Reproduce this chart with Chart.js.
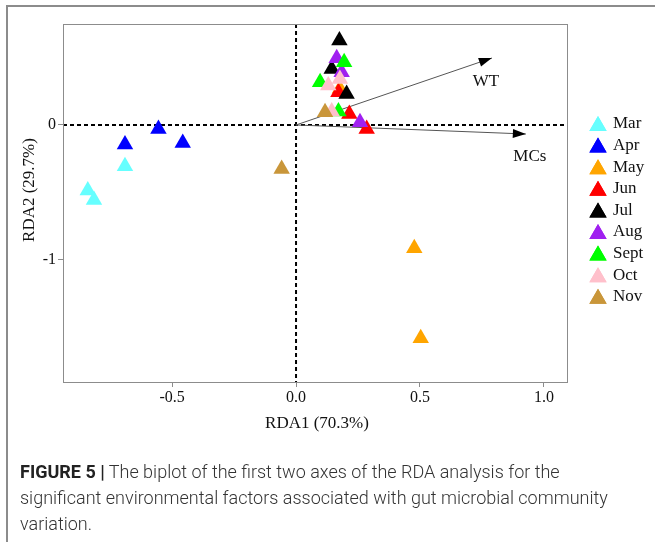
<!DOCTYPE html>
<html>
<head>
<meta charset="utf-8">
<script src="https://cdn.jsdelivr.net/npm/chart.js@4/dist/chart.umd.min.js"></script>
<style>
  html, body { margin: 0; padding: 0; background: #fff; }
  body { width: 655px; height: 542px; position: relative; overflow: hidden; }
  #frame { position: absolute; left: 6px; top: 5px; width: 660px; height: 545px;
    border-left: 2px solid #8c8c8c; border-top: 2px solid #8c8c8c; }
  #chart { position: absolute; left: 0; top: 0; }
  #caption { position: absolute; left: 20px; top: 459px; font-family: Roboto, "Noto Sans", sans-serif;
    font-weight: 300; font-size: 18px; line-height: 26px; color: #333; white-space: nowrap; }
  #caption b { font-weight: 700; color: #222; }
</style>
</head>
<body>
<div id="frame"></div>
<canvas id="chart" width="655" height="542"></canvas>
<div id="caption"><b>FIGURE 5 |</b> The biplot of the first two axes of the RDA analysis for the<br>significant environmental factors associated with gut microbial community<br>variation.</div>
<script>
// sample scores [RDA1, RDA2] per month
const mar = [[-0.69, -0.305], [-0.84, -0.485], [-0.815, -0.555]];
const apr = [[-0.555, -0.03], [-0.69, -0.145], [-0.457, -0.133]];
const may = [[0.477, -0.913], [0.503, -1.58], [0.177, 0.268]];
const jun = [[0.171, 0.242], [0.215, 0.082], [0.285, -0.03]];
const jul = [[0.175, 0.625], [0.144, 0.415], [0.204, 0.23]];
const aug = [[0.164, 0.494], [0.184, 0.39], [0.258, 0.02]];
const sept = [[0.194, 0.464], [0.097, 0.316], [0.171, 0.1]];
const oct = [[0.13, 0.292], [0.177, 0.341], [0.144, 0.1]];
const nov = [[0.117, 0.094], [-0.058, -0.326]];

const months = ['Mar', 'Apr', 'May', 'Jun', 'Jul', 'Aug', 'Sept', 'Oct', 'Nov'];
const monthData = [mar, apr, may, jun, jul, aug, sept, oct, nov];
const monthColors = ['#66FFFF', '#0000FF', '#FFA500', '#FF0000', '#000000', '#A020F0', '#00FF00', '#FFC0CB', '#C9963A'];

// environmental vectors
const envVars = ['WT', 'MCs'];
const envX = [0.79, 0.927];
const envY = [0.496, -0.067];

const xTicks = [-0.5, 0, 0.5, 1.0];
const yTicks = [0, -1];

const serif = '"Liberation Serif", "DejaVu Serif", serif';

const pointSets = monthData.map((pts, i) => ({
  type: 'scatter',
  label: months[i],
  data: pts.map(p => ({ x: p[0], y: p[1] })),
  pointStyle: 'triangle',
  pointRadius: 9.5,
  backgroundColor: monthColors[i],
  borderWidth: 0,
  order: months.length - i
}));

const arrowSets = envVars.map((name, i) => ({
  type: 'line',
  label: name,
  data: [{ x: 0, y: 0 }, { x: envX[i], y: envY[i] }],
  borderColor: '#555',
  borderWidth: 1,
  pointRadius: 0,
  order: 100
}));

// zero lines, box, arrowheads, titles, legend
const decor = {
  id: 'decor',
  beforeDatasetsDraw(chart) {
    const { ctx, chartArea: a, scales: { x, y } } = chart;
    ctx.save();
    ctx.strokeStyle = '#000';
    ctx.lineWidth = 2;
    ctx.setLineDash([4, 3]);
    const x0 = x.getPixelForValue(0), y0 = y.getPixelForValue(0);
    ctx.beginPath();
    ctx.moveTo(a.left, y0); ctx.lineTo(a.right, y0);
    ctx.moveTo(x0, a.top); ctx.lineTo(x0, a.bottom);
    ctx.stroke();
    ctx.restore();
  },
  afterDatasetsDraw(chart) {
    const { ctx, chartArea: a, scales: { x, y } } = chart;
    ctx.save();
    ctx.strokeStyle = '#8c8c8c';
    ctx.lineWidth = 1;
    ctx.strokeRect(a.left + 0.5, a.top + 0.5, a.right - a.left, a.bottom - a.top);

    const labelOff = [[-6, 24], [4, 23]];
    envVars.forEach((name, i) => {
      const px = x.getPixelForValue(envX[i]), py = y.getPixelForValue(envY[i]);
      const ang = Math.atan2(py - y.getPixelForValue(0), px - x.getPixelForValue(0));
      const len = 13, half = 4.5;
      ctx.fillStyle = '#000';
      ctx.beginPath();
      ctx.moveTo(px, py);
      ctx.lineTo(px - len * Math.cos(ang) + half * Math.sin(ang), py - len * Math.sin(ang) - half * Math.cos(ang));
      ctx.lineTo(px - len * Math.cos(ang) - half * Math.sin(ang), py - len * Math.sin(ang) + half * Math.cos(ang));
      ctx.closePath();
      ctx.fill();
      ctx.font = '17px ' + serif;
      ctx.fillStyle = '#111';
      ctx.textAlign = 'center';
      ctx.textBaseline = 'middle';
      ctx.fillText(name, px + labelOff[i][0], py + labelOff[i][1]);
    });

    // axis titles
    ctx.font = '17px ' + serif;
    ctx.fillStyle = '#111';
    ctx.textAlign = 'center';
    ctx.textBaseline = 'middle';
    ctx.fillText('RDA1 (70.3%)', (a.left + a.right) / 2 + 2, 424);
    ctx.save();
    ctx.translate(30, 190);
    ctx.rotate(-Math.PI / 2);
    ctx.fillText('RDA2 (29.7%)', 0, 0);
    ctx.restore();

    // legend
    months.forEach((m, i) => {
      const ly = 124 + i * 21.6;
      ctx.fillStyle = monthColors[i];
      Chart.helpers.drawPoint(ctx, { pointStyle: 'triangle', radius: 10, borderWidth: 0 }, 598, ly + 2);
      ctx.fill();
      ctx.fillStyle = '#111';
      ctx.font = '17px ' + serif;
      ctx.textAlign = 'left';
      ctx.fillText(m, 613, ly);
    });
    ctx.restore();
  }
};

new Chart(document.getElementById('chart'), {
  data: { datasets: [...arrowSets, ...pointSets] },
  options: {
    responsive: false,
    animation: false,
    layout: { padding: { top: 24, right: 88, left: 0, bottom: 0 } },
    plugins: { legend: { display: false }, tooltip: { enabled: false } },
    scales: {
      x: {
        type: 'linear', min: -0.94, max: 1.093,
        afterBuildTicks: s => { s.ticks = xTicks.map(v => ({ value: v })); },
        afterFit: s => { s.height = 160; },
        grid: { drawOnChartArea: false, tickLength: 5, color: '#8c8c8c' },
        border: { display: false },
        ticks: { font: { family: serif, size: 16 }, color: '#111', padding: 1, callback: v => v.toFixed(1) }
      },
      y: {
        type: 'linear', min: -1.904, max: 0.748,
        afterBuildTicks: s => { s.ticks = yTicks.map(v => ({ value: v })); },
        afterFit: s => { s.width = 63; },
        grid: { drawOnChartArea: false, tickLength: 5, color: '#8c8c8c' },
        border: { display: false },
        ticks: { font: { family: serif, size: 16 }, color: '#111', padding: 2, callback: v => String(v) }
      }
    }
  },
  plugins: [decor]
});
</script>
</body>
</html>
